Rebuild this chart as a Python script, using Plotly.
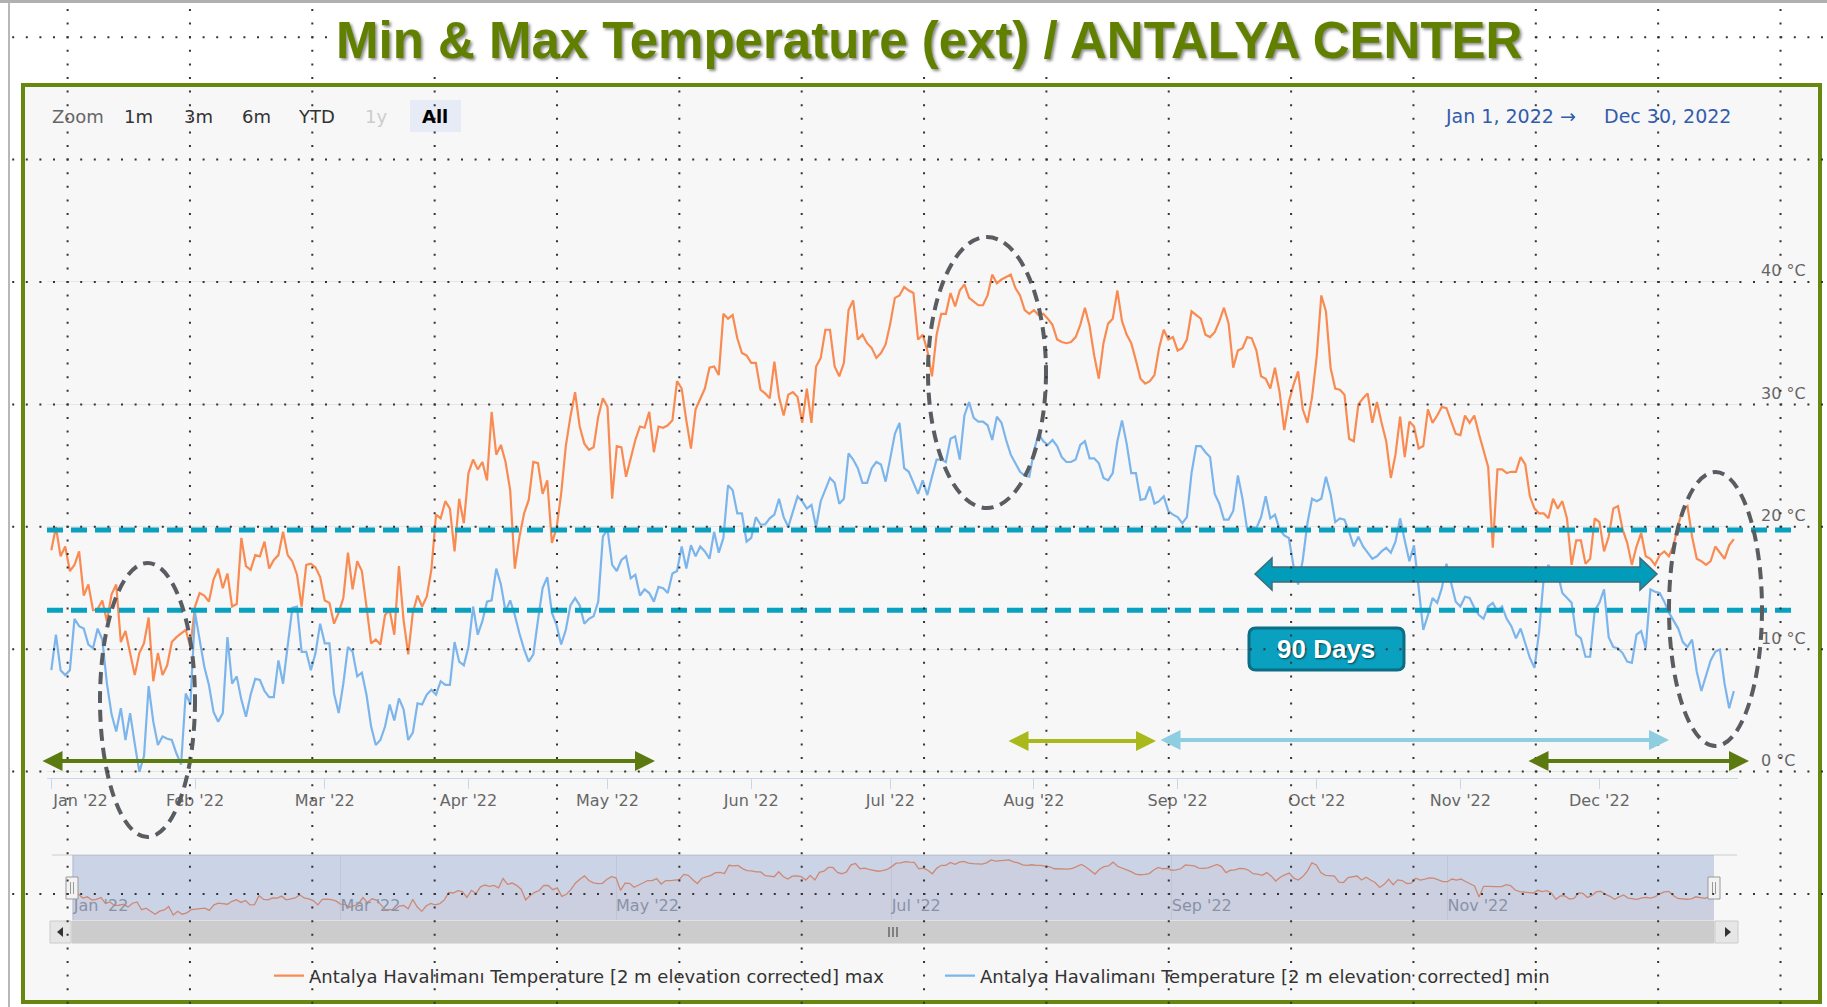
import plotly.graph_objects as go
import pandas as pd
from datetime import timedelta

W, H = 1827, 1007

# ------------------------------------------------------------------ data
# daily max temperature (°C), Jan 1 – May 4
max_jan_may = [
    18.1, 20.0, 17.6, 18.4, 16.4, 16.9, 18.0, 14.4, 15.3, 13.2,
    13.3, 14.0, 12.3, 14.5, 15.3, 10.6, 11.5, 9.8, 7.9, 9.7,
    10.5, 12.6, 7.4, 9.7, 7.9, 8.7, 10.6, 11.0, 11.3, 11.6,
    10.2, 13.5, 14.6, 14.4, 13.9, 15.7, 16.6, 15.0, 16.2, 13.5,
    13.7, 19.1, 16.8, 16.5, 17.7, 17.6, 18.8, 16.6, 17.3, 17.7,
    19.6, 17.7, 17.2, 16.1, 13.5, 16.9, 17.0, 16.7, 15.9, 14.0,
    13.8, 12.1, 13.0, 14.2, 17.9, 14.9, 17.2, 16.4, 13.5, 10.5,
    10.8, 10.4, 12.8, 13.2, 11.2, 16.8, 12.4, 9.6, 13.0, 14.4,
    13.5, 14.3, 16.5, 21.0, 20.7, 22.1, 21.5, 18.0, 22.3, 20.3,
    24.4, 25.5, 24.7, 25.3, 23.8, 29.4, 25.9, 26.7, 25.3, 23.0,
    16.6, 19.2, 21.1, 22.2, 25.3, 25.2, 22.7, 23.8, 18.7, 19.9,
    22.7, 26.6, 29.0, 31.0, 28.2, 26.8, 26.3, 26.5, 29.0, 30.5,
    29.8, 22.3, 26.6, 26.5,
]
# daily max temperature (°C), May 5 – Sep 5
max_may_sep = [
    24.1, 25.5, 27.1, 28.2, 28.1, 29.4, 26.1, 28.2, 28.1, 28.3,
    28.7, 31.9, 31.3, 28.7, 26.4, 29.6, 30.5, 31.3, 33.0, 33.1,
    32.4, 37.4, 37.0, 37.3, 35.4, 34.2, 34.0, 33.4, 33.4, 31.2,
    30.9, 30.5, 33.5, 30.6, 29.1, 30.8, 31.0, 30.6, 28.5, 31.3,
    28.5, 33.1, 33.8, 36.1, 36.1, 33.1, 32.3, 33.4, 37.7, 38.5,
    35.3, 35.7, 35.0, 34.6, 33.8, 34.2, 34.9, 36.6, 38.7, 38.9,
    39.6, 39.3, 39.1, 35.3, 35.7, 34.4, 32.3, 35.7, 37.4, 37.4,
    39.1, 38.0, 39.3, 39.8, 38.7, 38.4, 38.1, 38.1, 38.9, 40.6,
    39.9, 40.2, 40.4, 40.6, 39.5, 38.9, 37.7, 37.4, 37.7, 37.3,
    37.4, 37.0, 36.5, 35.3, 35.1, 35.0, 35.1, 35.5, 36.5, 37.9,
    36.4, 34.0, 32.1, 35.0, 36.6, 37.0, 39.3, 36.8, 35.7, 35.0,
    33.6, 32.1, 31.7, 31.9, 32.4, 34.6, 36.1, 35.3, 35.5, 34.4,
    34.6, 35.3, 37.6, 37.3,
]
# daily max temperature (°C), Sep 6 – Dec 30
max_sep_dec = [
    37.0, 35.7, 35.5, 35.9, 36.8, 37.9, 36.6, 33.0, 34.4, 34.6,
    35.5, 35.4, 34.4, 32.3, 32.1, 31.3, 33.0, 31.0, 27.9, 30.2,
    31.6, 32.7, 29.6, 28.5, 30.6, 33.9, 38.9, 37.6, 33.0, 31.3,
    31.2, 30.8, 27.2, 27.0, 30.0, 30.5, 30.9, 28.5, 30.2, 28.5,
    27.0, 24.0, 25.9, 29.0, 25.7, 28.6, 28.2, 26.4, 26.6, 29.6,
    28.5, 29.1, 29.8, 29.7, 28.6, 27.6, 27.5, 29.1, 28.5, 29.1,
    27.6, 26.3, 24.9, 18.3, 24.7, 24.7, 24.4, 24.5, 24.5, 25.7,
    25.1, 22.5, 21.5, 21.1, 21.1, 20.7, 22.3, 21.5, 22.1, 20.7,
    16.9, 18.9, 18.9, 17.0, 17.4, 20.7, 20.4, 18.0, 19.2, 21.5,
    21.7, 19.8, 18.7, 16.9, 18.4, 19.5, 17.6, 17.4, 16.9, 17.7,
    18.0, 17.6, 18.5, 20.2, 21.4, 21.7, 19.2, 17.4, 17.2, 16.9,
    17.2, 18.4, 17.9, 17.4, 18.5, 19.0,
]
# daily min temperature (°C), Jan 1 – May 4
min_jan_may = [
    8.3, 11.2, 8.3, 7.9, 8.3, 12.5, 11.9, 11.7, 10.4, 10.1,
    11.7, 10.8, 7.2, 4.7, 3.3, 5.2, 2.6, 4.8, 2.3, 0.0,
    1.3, 7.0, 4.1, 2.2, 2.9, 2.7, 2.6, 1.5, 0.6, 6.4,
    5.5, 13.0, 10.8, 8.6, 7.1, 4.9, 4.1, 4.8, 11.0, 7.2,
    7.8, 5.9, 4.5, 6.3, 7.6, 7.5, 6.6, 6.1, 6.1, 9.1,
    7.2, 10.5, 13.4, 13.5, 9.8, 9.8, 8.3, 9.7, 12.1, 10.5,
    10.5, 6.4, 4.8, 7.2, 10.2, 9.8, 7.8, 8.1, 6.3, 3.7,
    2.2, 2.6, 3.7, 5.5, 4.2, 6.0, 5.1, 2.6, 3.2, 5.6,
    5.5, 6.3, 6.7, 6.3, 7.4, 7.1, 7.1, 10.6, 9.0, 8.7,
    10.2, 13.5, 11.2, 12.3, 13.9, 14.0, 16.6, 15.3, 13.1, 14.0,
    12.8, 11.3, 10.0, 9.0, 9.6, 12.4, 15.0, 15.9, 13.0, 12.0,
    10.4, 11.6, 13.6, 14.2, 13.6, 12.1, 12.5, 12.7, 13.9, 19.2,
    19.8, 16.9, 16.4, 17.3,
]
# daily min temperature (°C), May 5 – Sep 5
min_may_sep = [
    17.6, 15.8, 16.1, 14.4, 14.9, 14.6, 13.9, 15.1, 15.0, 14.6,
    16.2, 16.4, 18.4, 16.6, 18.5, 17.6, 18.4, 18.0, 17.4, 19.6,
    17.9, 19.1, 23.4, 23.0, 21.1, 21.1, 18.8, 19.1, 20.8, 20.2,
    20.2, 20.7, 21.0, 22.3, 20.8, 20.0, 21.3, 22.5, 22.1, 21.5,
    21.8, 20.0, 22.1, 23.0, 24.0, 23.6, 21.9, 22.3, 26.0, 25.5,
    24.8, 23.6, 23.6, 24.8, 25.3, 25.1, 23.7, 25.6, 27.6, 28.5,
    24.8, 24.5, 23.6, 22.7, 23.8, 22.6, 24.1, 25.5, 25.5, 25.3,
    27.2, 27.4, 25.5, 29.1, 30.2, 28.9, 28.6, 28.6, 28.3, 27.1,
    29.0, 28.5, 27.1, 25.9, 25.2, 24.5, 24.2, 24.1, 26.2, 27.6,
    27.0, 26.7, 27.1, 26.6, 25.7, 25.3, 25.3, 25.5, 26.7, 27.0,
    25.6, 25.6, 25.2, 24.0, 23.8, 24.4, 27.0, 28.7, 26.8, 24.4,
    24.4, 22.2, 22.3, 23.3, 21.9, 22.1, 22.5, 21.3, 21.0, 20.8,
    20.3, 20.8, 24.4, 26.6,
]
# daily min temperature (°C), Sep 6 – Dec 30
min_sep_dec = [
    26.6, 26.1, 25.7, 22.7, 21.9, 20.6, 20.6, 21.3, 24.2, 22.3,
    19.8, 20.0, 19.9, 20.8, 22.5, 20.7, 21.0, 19.8, 19.3, 19.1,
    16.8, 15.3, 17.3, 20.3, 22.3, 22.1, 22.3, 24.1, 22.7, 20.4,
    20.7, 20.6, 19.6, 18.4, 19.2, 18.4, 17.9, 17.4, 17.6, 18.0,
    18.3, 17.9, 18.8, 20.7, 18.9, 17.2, 18.5, 15.0, 11.6, 12.8,
    14.2, 13.8, 15.0, 17.0, 15.5, 13.9, 13.5, 14.3, 14.2, 13.4,
    12.8, 12.5, 13.5, 13.8, 13.1, 13.5, 12.5, 11.9, 10.9, 11.7,
    10.5, 9.3, 8.5, 11.5, 15.9, 16.9, 15.8, 16.2, 14.6, 14.2,
    13.8, 11.2, 10.9, 9.4, 9.4, 13.2, 13.8, 14.9, 11.0, 10.2,
    10.1, 9.7, 9.0, 8.9, 11.2, 11.5, 10.1, 14.9, 14.7, 14.6,
    13.9, 13.0, 12.3, 11.7, 10.6, 10.2, 10.8, 8.2, 6.6, 7.8,
    9.1, 9.8, 10.0, 7.2, 5.2, 6.6,
]

series_names = [
    "Antalya Havalimanı Temperature [2 m elevation corrected] max",
    "Antalya Havalimanı Temperature [2 m elevation corrected] min",
]
y_tick_values = [0, 10, 20, 30, 40, 50]
y_tick_labels = ["0 °C", "10 °C", "20 °C", "30 °C", "40 °C", ""]
threshold_upper = 19.75
threshold_lower = 13.2
title_text = "Min & Max Temperature (ext) / ANTALYA CENTER"
zoom_buttons = ["1m", "3m", "6m", "YTD", "1y", "All"]
date_from, date_to = "Jan 1, 2022", "Dec 30, 2022"
label_90 = "90 Days"

max_temp = max_jan_may + max_may_sep + max_sep_dec
min_temp = min_jan_may + min_may_sep + min_sep_dec
dates = pd.date_range("2022-01-01", periods=len(max_temp), freq="D")

month_starts = pd.date_range("2022-01-01", "2022-12-01", freq="MS")
month_labels = [d.strftime("%b '22") for d in month_starts]
# first label is pushed right, as in the original
label_pos = [month_starts[0] + timedelta(days=6.3)] + list(month_starts[1:])
nav_ticks = month_starts[::2]
nav_labels = month_labels[::2]

# ------------------------------------------------------------------ helpers
def px(x):
    return x / W


def py(y):
    return 1 - y / H


def path(points, close=True):
    s = "M " + " L ".join(f"{px(x):.5f},{py(y):.5f}" for x, y in points)
    return s + (" Z" if close else "")


def rounded_rect(x0, y0, x1, y1, r):
    P = lambda x, y: f"{px(x):.5f},{py(y):.5f}"
    return (f"M {P(x0 + r, y0)} L {P(x1 - r, y0)} Q {P(x1, y0)} {P(x1, y0 + r)} "
            f"L {P(x1, y1 - r)} Q {P(x1, y1)} {P(x1 - r, y1)} L {P(x0 + r, y1)} "
            f"Q {P(x0, y1)} {P(x0, y1 - r)} L {P(x0, y0 + r)} Q {P(x0, y0)} {P(x0 + r, y0)} Z")


FONT = "DejaVu Sans"
ORANGE = "#f98b52"
BLUE = "#7cb5ec"
TEAL = "#0aa0c0"

fig = go.Figure()

fig.add_trace(go.Scatter(x=dates, y=max_temp, mode="lines", name=series_names[0],
                         line=dict(color=ORANGE, width=2.2), xaxis="x", yaxis="y"))
fig.add_trace(go.Scatter(x=dates, y=min_temp, mode="lines", name=series_names[1],
                         line=dict(color=BLUE, width=2.2), xaxis="x", yaxis="y"))
# navigator
fig.add_trace(go.Scatter(x=dates, y=max_temp, mode="lines", showlegend=False,
                         line=dict(color=ORANGE, width=1.3), fill="tozeroy",
                         fillcolor="rgba(249,139,82,0.06)", xaxis="x2", yaxis="y2",
                         hoverinfo="skip"))

x_range = [dates[0] - timedelta(days=0.93), dates[-1] + timedelta(days=0.9)]

shapes = []
# chart background inside frame
shapes.append(dict(type="rect", xref="paper", yref="paper", x0=px(23), x1=px(1820),
                   y0=py(85), y1=py(1002), fillcolor="#f7f7f7", line=dict(width=0),
                   layer="below"))
# selected "All" button background
shapes.append(dict(type="rect", xref="paper", yref="paper", x0=px(410), x1=px(461),
                   y0=py(100), y1=py(132), fillcolor="#e6ebf5", line=dict(width=0),
                   layer="below"))

# threshold dashed lines
for t in (threshold_upper, threshold_lower):
    shapes.append(dict(type="line", xref="paper", yref="y", x0=px(47), x1=px(1795),
                       y0=t, y1=t, line=dict(color=TEAL, width=5, dash="16px,8px"),
                       layer="above"))

# dashed ellipses
for (x0, x1, y0, y1) in [(100, 195, 563, 837), (928, 1046, 237, 508), (1669, 1762, 472, 746)]:
    shapes.append(dict(type="circle", xref="paper", yref="paper", x0=px(x0), x1=px(x1),
                       y0=py(y1), y1=py(y0),
                       line=dict(color="#595c60", width=4, dash="12px,7px"), layer="above"))

# big teal block double arrow
shapes.append(dict(type="path", xref="paper", yref="paper", layer="above",
                   path=path([(1255, 574), (1272, 558), (1272, 567), (1640, 567), (1640, 558),
                              (1657, 574), (1640, 590), (1640, 582), (1272, 582), (1272, 590)]),
                   fillcolor="#009cba", line=dict(color="#3f6b7a", width=1.5)))
# "90 Days" box
shapes.append(dict(type="path", xref="paper", yref="paper", layer="above",
                   path=rounded_rect(1249, 628, 1404, 670, 7),
                   fillcolor=TEAL, line=dict(color="#0b6d86", width=3)))

# navigator decorations
shapes.append(dict(type="line", xref="paper", yref="paper", x0=px(52), x1=px(1737),
                   y0=py(855), y1=py(855), line=dict(color="#cccccc", width=1), layer="above"))
shapes.append(dict(type="rect", xref="paper", yref="paper", x0=px(72), x1=px(1714),
                   y0=py(920), y1=py(855), fillcolor="rgba(102,133,194,0.3)",
                   line=dict(width=0), layer="above"))
for hx in (72, 1714):
    shapes.append(dict(type="rect", xref="paper", yref="paper", x0=px(hx - 6), x1=px(hx + 6),
                       y0=py(899), y1=py(877), fillcolor="#f2f2f2",
                       line=dict(color="#999999", width=1), layer="above"))
    for dx in (-1.5, 1.5):
        shapes.append(dict(type="line", xref="paper", yref="paper", x0=px(hx + dx), x1=px(hx + dx),
                           y0=py(894), y1=py(882), line=dict(color="#999999", width=1),
                           layer="above"))
# scrollbar
shapes.append(dict(type="rect", xref="paper", yref="paper", x0=px(50), x1=px(1738),
                   y0=py(943), y1=py(921), fillcolor="#f2f2f2",
                   line=dict(color="#f2f2f2", width=1), layer="above"))
shapes.append(dict(type="rect", xref="paper", yref="paper", x0=px(72), x1=px(1714),
                   y0=py(943), y1=py(921), fillcolor="#cccccc",
                   line=dict(color="#cccccc", width=1), layer="above"))
for (bx0, bx1) in [(50, 71), (1715, 1738)]:
    shapes.append(dict(type="rect", xref="paper", yref="paper", x0=px(bx0), x1=px(bx1),
                       y0=py(943), y1=py(921), fillcolor="#e6e6e6",
                       line=dict(color="#cccccc", width=1), layer="above"))
shapes.append(dict(type="path", xref="paper", yref="paper", layer="above",
                   path=path([(57, 932), (63, 927), (63, 937)]), fillcolor="#333333",
                   line=dict(width=0)))
shapes.append(dict(type="path", xref="paper", yref="paper", layer="above",
                   path=path([(1731, 932), (1725, 927), (1725, 937)]), fillcolor="#333333",
                   line=dict(width=0)))
for rx in (889, 893, 897):
    shapes.append(dict(type="line", xref="paper", yref="paper", x0=px(rx), x1=px(rx),
                       y0=py(937), y1=py(927), line=dict(color="#333333", width=1),
                       layer="above"))

# olive frame
shapes.append(dict(type="rect", xref="paper", yref="paper", x0=px(23), x1=px(1820),
                   y0=py(1002), y1=py(85), line=dict(color="#67870f", width=4), layer="above"))
# slide border
shapes.append(dict(type="line", xref="paper", yref="paper", x0=px(9), x1=px(9), y0=0, y1=1,
                   line=dict(color="#a0a0a0", width=1.5), layer="above"))
shapes.append(dict(type="line", xref="paper", yref="paper", x0=0, x1=1, y0=py(1.5), y1=py(1.5),
                   line=dict(color="#b0b0b0", width=3), layer="above"))

# slide dotted grid on top
for i in range(15):
    gx = 67.6 + 122.35 * i
    shapes.append(dict(type="line", xref="paper", yref="paper", x0=px(gx), x1=px(gx),
                       y0=py(9), y1=0, line=dict(color="#333333", width=2, dash="2px,11.6px"),
                       layer="above"))
for k in range(8):
    gy = 37.2 + 122.4 * k
    shapes.append(dict(type="line", xref="paper", yref="paper", x0=px(12.2), x1=1,
                       y0=py(gy), y1=py(gy),
                       line=dict(color="#333333", width=2, dash="2px,11.6px"),
                       layer="above"))

# ------------------------------------------------------------------ annotations
def text_ann(text, x, y, font, **kw):
    d = dict(text=text, x=px(x), y=py(y), xref="paper", yref="paper", showarrow=False,
             xanchor="center", yanchor="middle", font=font)
    d.update(kw)
    return d


ann = []
ann.append(text_ann(title_text, 929, 40,
                    dict(family="Liberation Sans", size=51, color="#628000", weight="bold",
                         shadow="2px 2px 3px rgba(0,0,0,0.45)"),
                    bgcolor="white", borderpad=3))
ann.append(text_ann("Zoom", 78, 116, dict(family=FONT, size=18, color="#666666")))
btn_x = [138, 198, 256, 316, 376, 435]
btn_col = ["#333333", "#333333", "#333333", "#333333", "#cccccc", "#000000"]
for t, bx, c in zip(zoom_buttons, btn_x, btn_col):
    ann.append(text_ann(t, bx, 116, dict(family=FONT, size=18, color=c,
                                         weight="bold" if t == "All" else "normal")))
for t, bx in [(date_from, 1499), ("→", 1568), (date_to, 1667)]:
    ann.append(text_ann(t, bx, 116, dict(family=FONT, size=19, color="#335cad")))
ann.append(text_ann(label_90, 1326, 649,
                    dict(family="Liberation Sans", size=26, color="white", weight="bold",
                         shadow="1px 1px 2px rgba(0,0,0,0.6)")))


def arrow(x0, x1, y, color, width, size):
    return dict(x=px(x1), y=py(y), xref="paper", yref="paper", ax=-(x1 - x0), ay=0,
                axref="pixel", ayref="pixel", showarrow=True, text="",
                arrowhead=2, startarrowhead=2, arrowside="end+start",
                arrowcolor=color, arrowwidth=width, arrowsize=size, startarrowsize=size,
                standoff=0, startstandoff=0)


ann.append(arrow(41, 655, 761, "#5b7a10", 4, 1.0))
ann.append(arrow(1527, 1749, 761, "#5b7a10", 4, 1.0))
ann.append(arrow(1007, 1156, 741, "#a9b91c", 4, 1.0))
ann.append(arrow(1159, 1669, 740, "#8fcde0", 4, 1.0))

fig.update_layout(
    width=W, height=H, autosize=False,
    margin=dict(l=0, r=0, t=0, b=0),
    paper_bgcolor="white", plot_bgcolor="rgba(0,0,0,0)",
    font=dict(family=FONT, color="#666666"),
    showlegend=True,
    legend=dict(orientation="h", x=px(269), xanchor="left", y=py(976), yanchor="middle",
                font=dict(family=FONT, size=18, color="#333333"), itemwidth=30,
                entrywidth=626, entrywidthmode="pixels",
                bgcolor="rgba(0,0,0,0)", traceorder="normal"),
    xaxis=dict(domain=[px(47), px(1738)], anchor="y", type="date", range=x_range,
               showgrid=False, zeroline=False, showline=True, linecolor="#ccd6eb",
               linewidth=1, tickmode="array", tickvals=label_pos, ticktext=month_labels,
               ticks="", ticklabelstandoff=8,
               tickfont=dict(family=FONT, size=16, color="#666666"),
               minor=dict(tickmode="array", tickvals=list(month_starts), ticks="outside",
                          ticklen=10, tickcolor="#ccd6eb", tickwidth=1, showgrid=False)),
    yaxis=dict(domain=[py(778), py(159.5)], anchor="x", range=[-0.5, 50], side="right",
               showgrid=True, gridcolor="#e6e6e6", gridwidth=1, zeroline=False,
               showline=False, tickmode="array", tickvals=y_tick_values,
               ticktext=y_tick_labels, ticks="", ticklabelposition="outside top",
               ticklabelstandoff=22,
               tickfont=dict(family=FONT, size=16, color="#666666")),
    xaxis2=dict(domain=[px(72), px(1714)], anchor="y2", type="date",
                range=[dates[0] - timedelta(days=0.4), dates[-1]], showgrid=True,
                gridcolor="#e6e6e6",
                zeroline=False, showline=False, tickmode="array", tickvals=list(nav_ticks),
                ticktext=nav_labels, ticks="", ticklabelposition="inside right",
                tickfont=dict(family=FONT, size=16, color="#999999")),
    yaxis2=dict(domain=[py(920), py(855)], anchor="x2", range=[4.4, 43.6], visible=False),
    shapes=shapes,
    annotations=ann,
    hovermode=False,
)

fig.write_html("out.html", config={"displayModeBar": False},
               post_script="document.body.style.margin='0';document.body.style.overflow='hidden';")
